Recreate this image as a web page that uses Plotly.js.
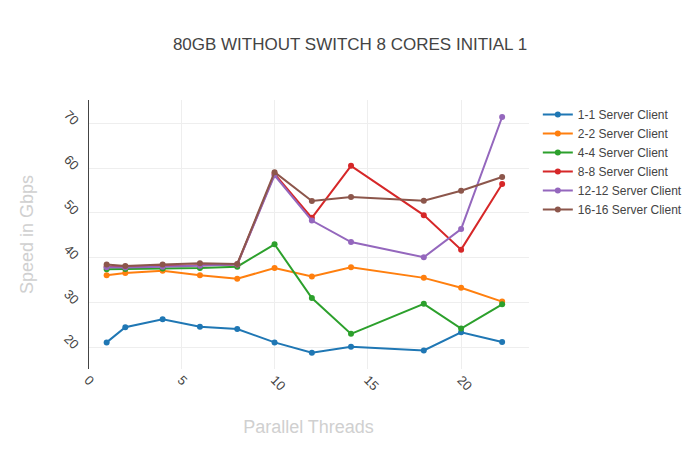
<!DOCTYPE html>
<html>
<head>
<meta charset="utf-8">
<script src="https://cdn.plot.ly/plotly-3.0.1.min.js"></script>
<style>html,body{margin:0;padding:0;background:#fff;}#chart{width:700px;height:450px;}</style>
</head>
<body>
<div id="chart"></div>
<script>
var threads = [1, 2, 4, 6, 8, 10, 12, 14.1, 18, 20, 22.2];
var seriesNames = ["1-1 Server Client", "2-2 Server Client", "4-4 Server Client", "8-8 Server Client", "12-12 Server Client", "16-16 Server Client"];
var s1 = [21.1, 24.5, 26.25, 24.6, 24.1, 21.1, 18.8, 20.1, 19.3, 23.35, 21.2];
var s2 = [36.1, 36.6, 37.1, 36.1, 35.3, 37.7, 35.8, 37.85, 35.5, 33.3, 30.2];
var s4 = [37.4, 37.5, 37.6, 37.7, 38.0, 43.0, 31.0, 23.0, 29.7, 24.2, 29.6];
var s8 = [38.0, 38.0, 38.15, 38.3, 38.5, 58.7, 48.9, 60.5, 49.5, 41.8, 56.45];
var s12 = [37.85, 37.8, 38.0, 38.2, 38.5, 58.4, 48.3, 43.5, 40.1, 46.4, 71.4];
var s16 = [38.5, 38.15, 38.5, 38.75, 38.6, 59.1, 52.65, 53.55, 52.7, 54.95, 58.0];
var colors = ["#1f77b4", "#ff7f0e", "#2ca02c", "#d62728", "#9467bd", "#8c564b"];
var allSeries = [s1, s2, s4, s8, s12, s16];

var data = allSeries.map(function (ys, i) {
  return {
    x: threads, y: ys, name: seriesNames[i], type: "scatter", mode: "lines+markers",
    line: {color: colors[i], width: 2}, marker: {color: colors[i], size: 6}
  };
});

var layout = {
  width: 700, height: 450,
  margin: {l: 88, r: 171, t: 100, b: 81},
  paper_bgcolor: "#fff", plot_bgcolor: "#fff",
  font: {family: "Liberation Sans, Arial, sans-serif", color: "#444", size: 12},
  title: {text: "80GB WITHOUT SWITCH 8 CORES INITIAL 1", font: {family: "Liberation Sans, Arial, sans-serif", size: 17, color: "#444"}, x: 0.5, y: 0.902, yanchor: "middle"},
  xaxis: {
    range: [0, 23.64], tickangle: 45, dtick: 5, gridcolor: "#eee", zeroline: true, zerolinecolor: "#444", zerolinewidth: 1,
    showline: false, tickfont: {size: 13, color: "#444"},
    title: {text: "Parallel Threads", font: {size: 18, color: "#d0d0d0"}}
  },
  yaxis: {
    range: [15.16, 75.2], tickangle: 45, dtick: 10, gridcolor: "#eee", zeroline: false, showline: false,
    ticklabelstandoff: 9,
    tickfont: {size: 13, color: "#444"},
    title: {text: "Speed in Gbps", font: {size: 18, color: "#d0d0d0"}, standoff: 22}
  },
  legend: {font: {size: 12, color: "#444"}, x: 1.02, y: 1}
};

Plotly.newPlot("chart", data, layout, {displayModeBar: false});
</script>
</body>
</html>
